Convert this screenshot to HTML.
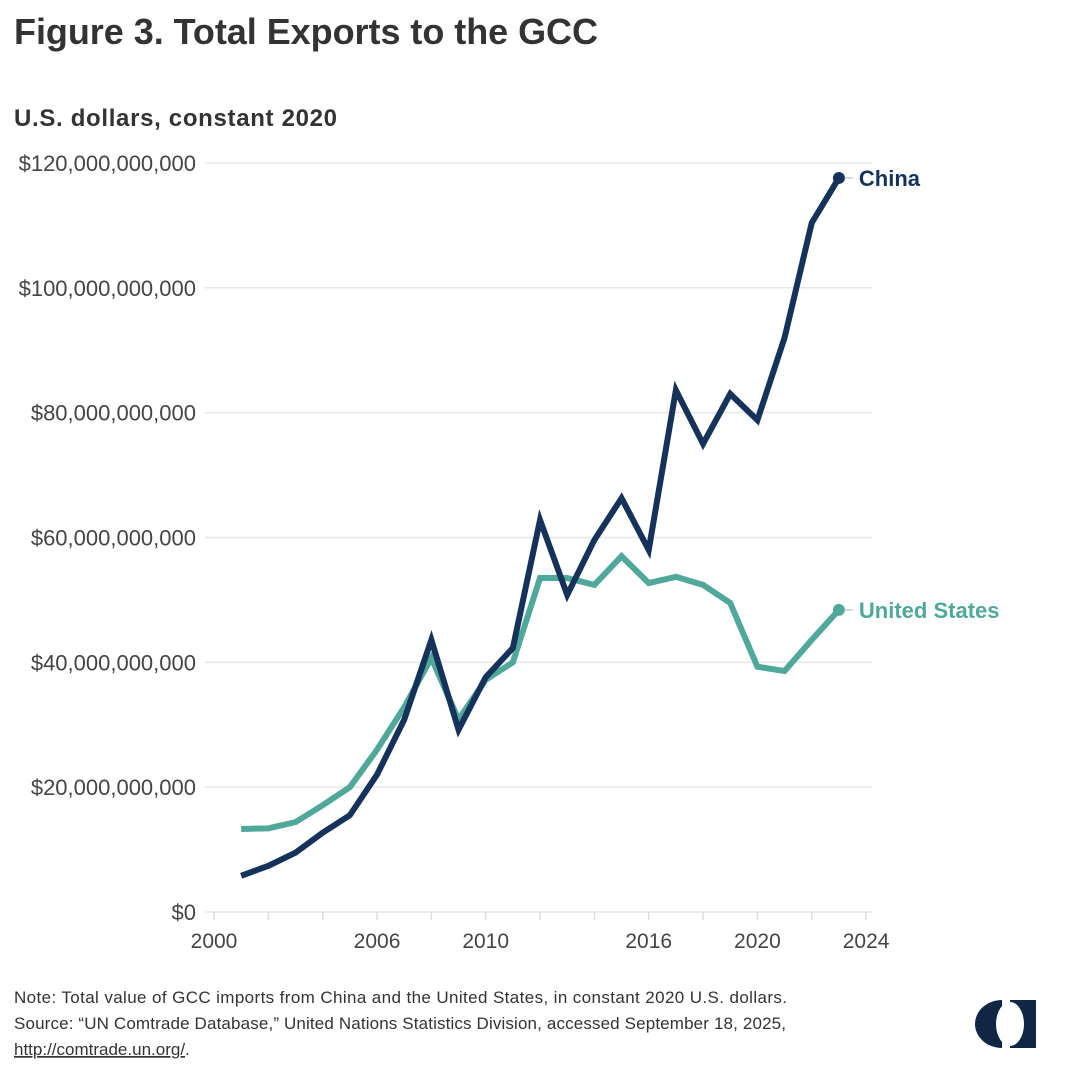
<!DOCTYPE html>
<html><head><meta charset="utf-8"><style>
body{margin:0;background:#fff;width:1080px;height:1086px;overflow:hidden;font-family:"Liberation Sans",sans-serif;}
</style></head><body>
<svg width="1080" height="1086" style="position:absolute;left:0;top:0">
<text x="14" y="44" font-size="36" font-weight="bold" fill="#333" textLength="584">Figure 3. Total Exports to the GCC</text>
<text x="14" y="126" font-size="24" font-weight="bold" fill="#333" textLength="323">U.S. dollars, constant 2020</text>
<g id="grid"></g><g id="xaxis"></g><g id="lines"></g>
<text x="14" y="1003" font-size="17" fill="#333" textLength="773">Note: Total value of GCC imports from China and the United States, in constant 2020 U.S. dollars.</text>
<text x="14" y="1029" font-size="17" fill="#333" textLength="772">Source: “UN Comtrade Database,” United Nations Statistics Division, accessed September 18, 2025,</text>
<text x="14" y="1055" font-size="17" fill="#333"><tspan text-decoration="underline">http://comtrade.un.org/</tspan>.</text>
<g>
<path d="M1002,1000 A27,24 0 0 0 1002,1048 L1036,1048 L1036,1000 Z" fill="#0f2744"/>
<ellipse cx="1010" cy="1024" rx="14" ry="22" fill="#fff"/>
<rect x="1002" y="1000" width="8" height="48" fill="#fff"/>
<rect x="1024" y="1000" width="12" height="48" fill="#0f2744"/>
</g>
</svg>
<script>
const years=[2001,2002,2003,2004,2005,2006,2007,2008,2009,2010,2011,2012,2013,2014,2015,2016,2017,2018,2019,2020,2021,2022,2023];
const china=[5.8,7.4,9.5,12.7,15.5,22,30.8,43.6,29.2,37.6,42.3,62.8,50.8,59.6,66.3,58,83.6,75,83,78.8,92,110.4,117.6];
const us=[13.3,13.4,14.4,17.1,20,26,32.8,40.7,30.8,37.2,40,53.5,53.5,52.4,57,52.7,53.7,52.4,49.5,39.3,38.6,43.6,48.4];
const yTicks=[0,20,40,60,80,100,120];
const yTickLabels=["$0","$20,000,000,000","$40,000,000,000","$60,000,000,000","$80,000,000,000","$100,000,000,000","$120,000,000,000"];
const xLabels=[2000,2006,2010,2016,2020,2024];
const NS="http://www.w3.org/2000/svg";
const X=y=>214+(y-2000)*27.17, Y=v=>912-v*6.242;
function mk(t,a,p){const e=document.createElementNS(NS,t);for(const k in a)e.setAttribute(k,a[k]);p.appendChild(e);return e;}
const g=document.getElementById('grid');
yTicks.forEach((v,i)=>{
 const l=mk('line',{x1:205,x2:872,y1:Y(v),y2:Y(v),stroke:'#e6e6e6','stroke-width':1.5},g);
 
 
 const t=mk('text',{x:196,y:Y(v)+8,'text-anchor':'end','font-size':22,fill:'#444'},g);
 t.textContent=yTickLabels[i];
 
 
});
const xa=document.getElementById('xaxis');
for(let y=2000;y<=2024;y+=2){
 const t=mk('line',{x1:X(y),x2:X(y),y1:912,y2:920,stroke:'#ddd','stroke-width':1.5},xa);
 
 
}
xLabels.forEach(y=>{
 const t=mk('text',{x:X(y),y:948,'text-anchor':'middle','font-size':21,fill:'#444'},xa);
 t.textContent=y;
 
 
});
const L=document.getElementById('lines');
function series(d,color,name,label){
 const p=mk('polyline',{points:years.map((y,i)=>X(y)+','+Y(d[i])).join(' '),fill:'none',stroke:color,'stroke-width':6,'stroke-linejoin':'miter'},L);
 
 
 const lx=X(years[years.length-1]),ly=Y(d[d.length-1]);
 const c=mk('circle',{cx:lx,cy:ly,r:6,fill:color},L);
 
 
 mk('line',{x1:lx+6,x2:lx+14,y1:ly,y2:ly,stroke:'#ccc','stroke-width':1.5},L);
 const t=mk('text',{x:lx+20,y:ly+8,'font-size':22,'font-weight':'bold',fill:color},L);
 t.textContent=label;
 
 
}
series(us,'#4fa89a','united-states','United States');
series(china,'#14325a','china','China');
</script>
</body></html>
